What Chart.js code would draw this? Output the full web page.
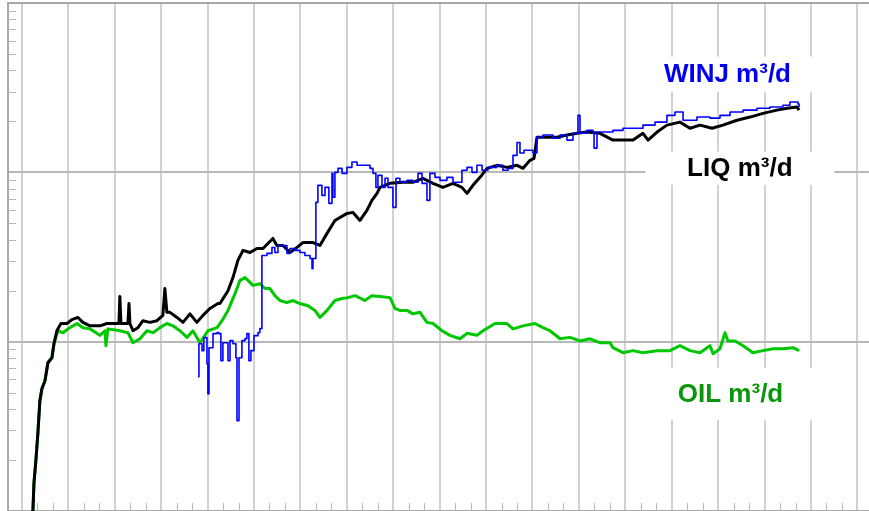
<!DOCTYPE html>
<html>
<head>
<meta charset="utf-8">
<script src="https://cdn.jsdelivr.net/npm/chart.js@4.4.1/dist/chart.umd.min.js"></script>
<style>
  html, body { margin: 0; padding: 0; background: #fff; overflow: hidden; }
  canvas { display: block; }
</style>
</head>
<body>
<canvas id="myChart" width="869" height="511"></canvas>
<script>
// x in months since start, rates in m3/d (log axis)
let liqMonths = [0.71,0.78,0.90,1.03,1.16,1.29,1.49,1.68,1.94,2.07,2.26,2.52,2.91,3.23,3.62,3.94,4.40,5.04,5.49,6.01,
  6.27,6.33,6.40,6.66,6.85,6.92,6.98,7.18,7.50,7.82,8.27,8.73,9.11,9.24,9.37,9.57,10.02,10.41,10.86,11.31,
  11.70,12.15,12.67,12.80,13.32,13.64,13.96,14.29,14.74,15.19,15.58,16.22,16.48,16.87,17.32,17.78,18.16,18.81,19.26,19.72,
  20.23,21.01,21.40,21.85,22.30,22.62,22.95,23.14,23.79,24.63,25.27,25.92,26.57,27.21,27.86,28.44,28.77,29.15,29.61,30.06,
  30.70,31.35,32.00,32.39,32.84,33.10,33.29,33.68,34.58,35.23,35.88,36.52,37.36,38.20,38.85,39.50,40.14,40.47,41.05,41.69,
  42.53,43.18,43.83,44.60,45.31,46.22,47.06,47.90,48.80,49.45,50.10,50.23];
let liqRates = [1.00,1.47,1.98,2.86,4.48,5.27,5.88,7.51,8.04,9.73,11.6,12.8,12.8,13.5,13.9,13.0,12.4,12.4,12.8,12.8,
  12.8,18.5,12.8,12.8,12.8,16.8,12.8,11.6,12.1,13.3,13.0,13.3,14.3,20.6,14.9,14.9,13.9,13.0,14.6,13.0,
  14.3,15.7,16.8,16.8,20.0,23.9,30.2,34.6,33.6,35.5,35.5,40.7,37.0,37.0,33.6,36.0,38.5,38.5,37.0,43.6,
  52.0,57.2,58.0,52.0,59.6,68.3,75.1,81.5,86.1,87.3,87.3,92.2,86.1,81.5,86.1,81.5,75.1,83.8,93.4,105.6,
  110,107,110,105.6,117.8,121,161,161,161,166,170,173,170,155,155,155,170,155,173,190,
  198,182,190,182,190,203,212,223,233,239,243,233];

let winjMonths = [11.38,11.44,11.64,11.76,11.96,12.02,12.09,12.35,12.61,12.73,12.86,12.99,13.32,13.45,13.64,13.83,13.90,14.03,14.22,14.42,
  14.54,14.67,14.80,15.00,15.26,15.38,15.51,15.84,16.16,16.35,16.55,16.87,17.13,17.32,17.65,17.97,18.29,18.62,18.75,18.81,
  19.00,19.13,19.39,19.59,19.84,20.04,20.10,20.23,20.43,20.69,21.01,21.33,21.66,22.04,22.50,22.69,22.88,23.01,23.27,23.47,
  23.66,23.98,24.18,24.43,24.89,25.27,25.60,25.86,26.18,26.37,26.70,27.02,27.47,27.86,28.44,28.77,29.09,29.41,29.74,30.12,
  30.70,31.09,31.42,31.74,32.00,32.19,32.45,32.71,33.03,33.29,33.68,34.32,34.78,35.23,35.62,35.94,36.07,36.52,36.91,36.98,
  37.17,37.82,38.20,38.85,39.50,40.14,40.92,41.69,42.21,42.73,43.63,44.47,45.12,45.77,46.61,47.51,48.35,49.19,49.64,50.16,50.23];
let winjRates = [6.21,9.73,8.85,10.56,7.41,4.92,9.21,11.15,11.31,11.15,7.72,9.86,7.72,10.14,9.73,8.04,3.41,8.04,10.14,10.42,
  11.15,7.72,8.85,10.85,11.31,11.94,32.3,33.2,36.0,33.6,37.0,37.0,33.2,35.5,34.6,33.6,32.3,31.0,27.0,31.0,
  66.5,83.8,73.1,81.5,65.6,98.6,71.2,100,105.6,98.6,107,115,110,110,105.6,98.6,81.5,96.0,81.5,92.2,
  81.5,62.1,92.2,87.3,89.7,87.3,98.6,86.1,68.3,98.6,93.4,89.7,93.4,87.3,102.8,107,100,110,102.8,107,
  110,102.8,105.6,126,150,130,135,135,130,161,166,159,166,155,170,217,170,177,170,139,
  173,173,177,182,182,190,198,217,227,203,212,209,217,227,233,239,243,249,260,253,243];

let oilMonths = [0.71,0.78,0.90,1.03,1.16,1.29,1.49,1.68,1.94,2.07,2.33,2.65,3.10,3.56,3.94,4.40,5.04,5.37,5.43,5.56,
  6.33,6.85,7.18,7.63,8.08,8.47,8.92,9.37,9.76,10.21,10.67,11.05,11.51,12.02,12.61,12.93,13.32,13.77,14.09,14.42,
  14.61,14.93,15.38,15.71,16.03,16.35,16.68,17.13,17.52,17.97,18.49,18.94,19.26,19.72,20.23,20.69,21.07,21.53,22.17,22.62,
  23.14,23.79,24.11,24.43,24.89,25.27,25.73,26.18,26.57,27.15,27.67,28.31,28.77,29.41,29.80,30.58,31.35,31.74,32.39,33.16,
  33.68,34.13,34.78,35.42,36.07,36.72,37.36,38.01,38.20,38.85,39.50,40.14,41.05,41.89,42.53,43.18,43.83,44.47,44.67,45.12,
  45.44,45.64,46.09,46.61,47.25,47.90,48.55,49.19,49.84,50.23];
let oilRates = [1.00,1.47,1.98,2.86,4.48,5.27,5.88,7.51,8.04,9.73,11.6,11.3,12.1,12.8,12.1,11.9,10.9,11.6,9.47,11.9,
  11.6,11.3,9.86,10.4,11.6,11.3,12.1,12.8,12.4,11.6,10.6,11.6,9.86,11.6,12.1,13.3,15.3,19.2,23.0,23.9,
  23.0,21.5,22.0,20.6,20.6,18.7,17.5,17.0,17.5,16.8,16.3,15.3,13.9,15.3,17.5,18.0,18.2,18.7,17.5,18.7,
  18.5,18.2,15.7,15.3,15.3,14.6,14.9,13.0,12.8,11.6,10.9,10.4,11.2,10.9,11.6,12.8,12.8,11.9,12.4,12.8,
  12.1,11.6,10.4,10.6,10.1,10.4,9.86,9.86,9.21,8.61,8.85,8.61,8.85,8.85,9.47,8.85,8.61,9.47,8.49,9.09,
  11.3,10.1,10.1,9.47,8.61,8.85,9.09,9.09,9.21,8.85];

let gridMonths = [0,3,6,9,12,15,18,21,24,27,30,33,36,39,42,45,48,51,54];
let gridRates = [10, 100];

let seriesLabels = [
  { text: 'WINJ m\u00b3/d', month: 45.6, value: 380, color: '#0000ee', boxW: 180, boxH: 35 },
  { text: 'LIQ m\u00b3/d',  month: 46.4, value: 105.6, color: '#000000', boxW: 189, boxH: 33 },
  { text: 'OIL m\u00b3/d',  month: 45.8, value: 4.92, color: '#0a960a', boxW: 190, boxH: 52 }
];

function pts(xs, ys) { return xs.map((m, i) => ({ x: m, y: ys[i] })); }

const decorations = {
  id: 'decorations',
  beforeDatasetsDraw(chart) {
    const { ctx, chartArea: a, scales: { x, y } } = chart;
    ctx.save();
    ctx.strokeStyle = '#a8a8a8';
    ctx.lineWidth = 2;
    ctx.beginPath();
    ctx.moveTo(a.left, a.top);
    ctx.lineTo(a.right, a.top);
    ctx.stroke();

    // minor ticks on the inside of the frame
    ctx.lineWidth = 1;
    ctx.strokeStyle = '#b8b8b8';
    ctx.beginPath();
    for (const d of [1, 10, 100]) {
      for (let k = 2; k <= 9; k++) {
        const py = Math.round(y.getPixelForValue(d * k)) + 0.5;
        ctx.moveTo(a.left, py);
        ctx.lineTo(a.left + 8, py);
      }
    }
    for (let m = Math.ceil(x.min); m <= x.max; m++) {
      if (m % 3 === 0) continue;
      const px = Math.round(x.getPixelForValue(m)) + 0.5;
      ctx.moveTo(px, a.bottom);
      ctx.lineTo(px, a.bottom - 8);
    }
    ctx.stroke();

    // series labels on white boxes
    ctx.font = 'bold 26px "Liberation Sans", Arial, sans-serif';
    ctx.textAlign = 'center';
    ctx.textBaseline = 'middle';
    for (const l of seriesLabels) {
      const px = x.getPixelForValue(l.month);
      const py = y.getPixelForValue(l.value);
      ctx.fillStyle = '#ffffff';
      ctx.fillRect(px - l.boxW / 2, py - l.boxH / 2, l.boxW, l.boxH);
      ctx.fillStyle = l.color;
      ctx.fillText(l.text, px, py + 1);
    }
    ctx.restore();
  }
};

var ctx = document.getElementById('myChart').getContext('2d');
var chart = new Chart(ctx, {
  type: 'line',
  data: {
    datasets: [{
      label: 'WINJ m\u00b3/d',
      data: pts(winjMonths, winjRates),
      borderColor: 'rgb(0,0,255)',
      borderWidth: 1.6,
      stepped: true
    }, {
      label: 'LIQ m\u00b3/d',
      data: pts(liqMonths, liqRates),
      borderColor: 'rgb(0,0,0)',
      borderWidth: 3
    }, {
      label: 'OIL m\u00b3/d',
      data: pts(oilMonths, oilRates),
      borderColor: 'rgb(0,200,0)',
      borderWidth: 3
    }]
  },
  options: {
    responsive: false,
    animation: false,
    // the hidden axes still reserve a few pixels, so trim them back
    layout: { padding: { left: 8, top: 3, right: -5, bottom: -3 } },
    elements: {
      point: { radius: 0 },
      line: { tension: 0, borderJoinStyle: 'round', fill: false }
    },
    plugins: { legend: { display: false }, tooltip: { enabled: false } },
    scales: {
      x: {
        type: 'linear',
        min: -0.9,
        max: 54.75,
        afterBuildTicks(scale) {
          scale.ticks = gridMonths.map(v => ({ value: v }));
        },
        ticks: { display: false },
        grid: { color: '#d2d2d2', lineWidth: 2, drawTicks: false },
        border: { display: true, color: '#a8a8a8', width: 2 }
      },
      y: {
        type: 'logarithmic',
        min: 1,
        max: 1000,
        afterBuildTicks(scale) {
          scale.ticks = gridRates.map(v => ({ value: v }));
        },
        ticks: { display: false },
        grid: { color: '#b8b8b8', lineWidth: 2, drawTicks: false },
        border: { display: true, color: '#a8a8a8', width: 2 }
      }
    }
  },
  plugins: [decorations]
});
</script>
</body>
</html>
